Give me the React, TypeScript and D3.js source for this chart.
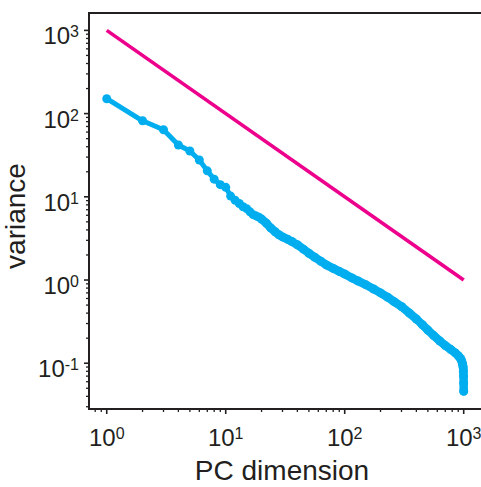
import React, { useRef, useEffect } from 'react';
import * as d3 from 'd3';

// PC index and variance
const pcIndex = [
  1, 2, 3, 4, 5, 6, 7, 8, 9, 10, 11, 12, 13, 14, 15, 16, 17, 18, 19, 20,
  22, 24, 26, 28, 30, 33, 36, 40, 45, 50, 56, 63, 70, 80, 90, 100, 115, 130,
  150, 175, 200, 230, 260, 300, 350, 400, 450, 500, 560, 630, 700, 780, 850,
  900, 940, 960, 975, 985, 990, 994, 997, 999, 1000,
];
const variance = [
  151, 82, 64, 42, 35.5, 27.7, 20.5, 16.3, 14, 13, 10.2, 9.1, 8.3, 7.6, 7.2, 6.6, 6.1, 5.9, 5.7, 5.4,
  4.8, 4.2, 3.8, 3.5, 3.3, 3.1, 2.9, 2.65, 2.35, 2.1, 1.88, 1.68, 1.52, 1.38, 1.27, 1.18, 1.06, 0.97,
  0.88, 0.78, 0.7, 0.62, 0.55, 0.48, 0.4, 0.34, 0.29, 0.25, 0.215, 0.185, 0.163, 0.146, 0.133,
  0.123, 0.114, 0.107, 0.1, 0.093, 0.088, 0.08, 0.07, 0.058, 0.046,
];
// reference line 1000/x
const refX = [1, 1000];
const refY = [1000, 1];

const xDecades = [0, 1, 2, 3];
const yDecades = [-1, 0, 1, 2, 3];

const App = () => {
  const svgRef = useRef<SVGSVGElement>(null);

  useEffect(() => {
    const svg = d3.select(svgRef.current);
    svg.selectAll('g').remove();

    const width = 481;
    const height = 487;
    const margin = { top: 13, bottom: 78, left: 89, right: -9 };
    const ink = '#231f20';
    const font = "'Liberation Sans', Arial, Helvetica, sans-serif";

    const xScale = d3.scaleLog()
      .domain([Math.pow(10, -0.149), Math.pow(10, 3.221)])
      .range([margin.left, width - margin.right]);
    const yScale = d3.scaleLog()
      .domain([Math.pow(10, -1.55), Math.pow(10, 3.209)])
      .range([height - margin.bottom, margin.top]);

    const x0 = xScale.range()[0];
    const x1 = xScale.range()[1];
    const y0 = yScale.range()[0];
    const y1 = yScale.range()[1];

    const g = svg.append('g');

    // minor ticks
    const minor = (dom: number[]) => {
      const out: number[] = [];
      for (let e = -3; e <= 4; e++) {
        for (let m = 2; m <= 9; m++) {
          const v = m * Math.pow(10, e);
          if (v >= dom[0] && v <= dom[1]) out.push(v);
        }
      }
      return out;
    };

    const axes = g.append('g').attr('stroke', ink);
    axes.selectAll('.xminor').data(minor(xScale.domain())).enter().append('line')
      .attr('x1', d => xScale(d)).attr('x2', d => xScale(d))
      .attr('y1', y0).attr('y2', y0 + 3).attr('stroke-width', 1.3);
    axes.selectAll('.xmajor').data(xDecades).enter().append('line')
      .attr('x1', d => xScale(Math.pow(10, d))).attr('x2', d => xScale(Math.pow(10, d)))
      .attr('y1', y0).attr('y2', y0 + 5).attr('stroke-width', 1.6);
    axes.selectAll('.yminor').data(minor(yScale.domain())).enter().append('line')
      .attr('y1', d => yScale(d)).attr('y2', d => yScale(d))
      .attr('x1', x0).attr('x2', x0 - 3).attr('stroke-width', 1.3);
    axes.selectAll('.ymajor').data(yDecades).enter().append('line')
      .attr('y1', d => yScale(Math.pow(10, d))).attr('y2', d => yScale(Math.pow(10, d)))
      .attr('x1', x0).attr('x2', x0 - 5).attr('stroke-width', 1.6);

    // frame
    g.append('rect')
      .attr('x', x0).attr('y', y1)
      .attr('width', x1 - x0).attr('height', y0 - y1)
      .attr('fill', 'none').attr('stroke', ink).attr('stroke-width', 2);

    // tick labels
    const xl = g.selectAll('.xlab').data(xDecades).enter().append('text')
      .attr('x', d => xScale(Math.pow(10, d)))
      .attr('y', y0 + 37)
      .attr('text-anchor', 'middle')
      .style('font-family', font).style('font-size', '24px').style('fill', ink);
    xl.append('tspan').text('10');
    xl.append('tspan').attr('dy', -7).style('font-size', '16px').text(d => String(d));

    const yl = g.selectAll('.ylab').data(yDecades).enter().append('text')
      .attr('x', 79)
      .attr('y', d => yScale(Math.pow(10, d)) + 14)
      .attr('text-anchor', 'end')
      .style('font-family', font).style('font-size', '24px').style('fill', ink);
    yl.append('tspan').text('10');
    yl.append('tspan').attr('dy', -7).style('font-size', '16px').text(d => String(d));

    // axis titles
    g.append('text')
      .attr('x', 282).attr('y', 480)
      .attr('text-anchor', 'middle')
      .style('font-family', font).style('font-size', '28px').style('fill', ink)
      .text('PC dimension');
    g.append('text')
      .attr('transform', 'translate(25,216) rotate(-90)')
      .attr('text-anchor', 'middle')
      .style('font-family', font).style('font-size', '28px').style('fill', ink)
      .text('variance');

    // reference line
    const ref = refX.map((v, i) => [v, refY[i]] as [number, number]);
    g.append('path')
      .datum(ref)
      .attr('d', d3.line<[number, number]>().x(d => xScale(d[0])).y(d => yScale(d[1])))
      .attr('fill', 'none').attr('stroke', '#ec008c').attr('stroke-width', 3.6);

    // variance curve
    const pts = pcIndex.map((v, i) => [v, variance[i]] as [number, number]);
    const line = d3.line<[number, number]>().x(d => xScale(d[0])).y(d => yScale(d[1]));
    const blue = '#00aeef';
    g.append('path').datum(pts).attr('d', line)
      .attr('fill', 'none').attr('stroke', blue).attr('stroke-width', 5)
      .attr('stroke-linejoin', 'round');
    g.append('path').datum(pts.filter(d => d[0] >= 20)).attr('d', line)
      .attr('fill', 'none').attr('stroke', blue).attr('stroke-width', 8.5)
      .attr('stroke-linejoin', 'round').attr('stroke-linecap', 'round');
    g.selectAll('.pt').data(pts).enter().append('circle')
      .attr('cx', d => xScale(d[0])).attr('cy', d => yScale(d[1]))
      .attr('r', 4.5).attr('fill', blue);
  }, []);

  return (
    <svg ref={svgRef} width={481} height={487}
      style={{ position: 'absolute', left: 0, top: 0, background: '#fff', overflow: 'hidden' }} />
  );
};

export default App;
